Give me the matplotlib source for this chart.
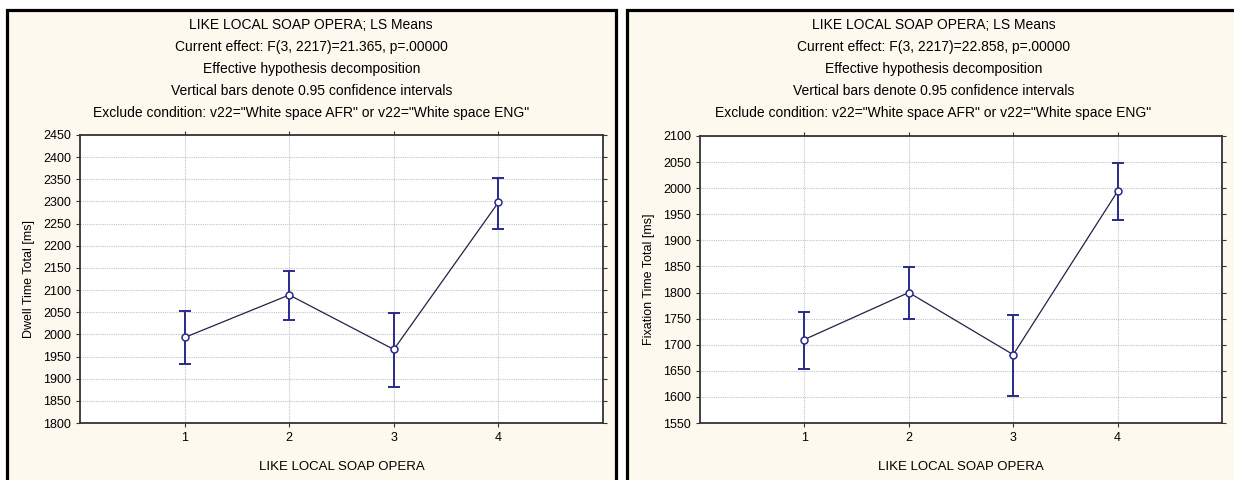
import numpy as np
import matplotlib.pyplot as plt
from matplotlib.patches import Rectangle

plt.rcParams['font.family'] = ['Liberation Sans', 'DejaVu Sans']

levels = [1, 2, 3, 4]
xlabel = "LIKE LOCAL SOAP OPERA"

dwell_mean = [1993, 2089, 1966, 2298]
dwell_low = [1933, 2032, 1882, 2237]
dwell_high = [2053, 2143, 2049, 2354]

fix_mean = [1710, 1800, 1681, 1994]
fix_low = [1653, 1749, 1601, 1939]
fix_high = [1762, 1849, 1757, 2048]

titles_left = ["LIKE LOCAL SOAP OPERA; LS Means",
               "Current effect: F(3, 2217)=21.365, p=.00000",
               "Effective hypothesis decomposition",
               "Vertical bars denote 0.95 confidence intervals",
               "Exclude condition: v22=\"White space AFR\" or v22=\"White space ENG\""]
titles_right = ["LIKE LOCAL SOAP OPERA; LS Means",
                "Current effect: F(3, 2217)=22.858, p=.00000",
                "Effective hypothesis decomposition",
                "Vertical bars denote 0.95 confidence intervals",
                "Exclude condition: v22=\"White space AFR\" or v22=\"White space ENG\""]

W, H = 1234, 480
fig = plt.figure(figsize=(W / 100, H / 100), dpi=100)
fig.patch.set_facecolor('white')

cream = '#fdf9ee'
navy = '#2a2a8a'


def px(x0, y0, x1, y1):
    # pixel box (top-left origin) -> figure fraction
    return [x0 / W, 1 - y1 / H, (x1 - x0) / W, (y1 - y0) / H]


def panel(x0, x1, ax_box, mean, low, high, ylim, ylabel, titles):
    fig.patches.append(Rectangle((x0 / W, -0.1), (x1 - x0) / W, 1.1 - 9.5 / H,
                                 transform=fig.transFigure, facecolor=cream,
                                 edgecolor='black', linewidth=2.3, zorder=-5))
    cx = (x0 + x1) / 2 / W
    for i, t in enumerate(titles):
        fig.text(cx, 1 - (25 + 22 * i) / H, t, ha='center', va='center', fontsize=10)

    ax = fig.add_axes(px(*ax_box))
    ax.set_facecolor('white')
    mean = np.array(mean)
    yerr = [mean - np.array(low), np.array(high) - mean]
    ax.plot(levels, mean, color='#222244', lw=0.9, zorder=2)
    ax.errorbar(levels, mean, yerr=yerr, fmt='none', ecolor=navy, elinewidth=1.4,
                capsize=4, capthick=1.4, zorder=3)
    ax.plot(levels, mean, 'o', ms=5, mfc='white', mec=navy, mew=1.1, zorder=4)

    ax.set_xlim(0, 5)
    ax.set_ylim(*ylim)
    ax.set_xticks(levels)
    ax.set_yticks(np.arange(ylim[0], ylim[1] + 1, 50))
    ax.grid(True, color='#c4c4c4', linestyle=(0, (1, 1)), linewidth=0.8)
    ax.tick_params(axis='both', labelsize=9, length=3, width=0.8, color='#333333',
                   top=True, right=True)
    ax.tick_params(axis='y', which='both', direction='out')
    for s in ax.spines.values():
        s.set_color('#333333')
        s.set_linewidth(1.3)
    ax.set_ylabel(ylabel, fontsize=9, labelpad=6)
    ax.set_xlabel(xlabel, fontsize=9.5, labelpad=12)
    return ax


panel(6.5, 616, (80, 135, 603, 423), dwell_mean, dwell_low, dwell_high,
      (1800, 2450), "Dwell Time Total [ms]", titles_left)
panel(627, 1240, (700, 136, 1222, 423), fix_mean, fix_low, fix_high,
      (1550, 2100), "Fixation Time Total [ms]", titles_right)

fig.savefig('out.png', dpi=100)
